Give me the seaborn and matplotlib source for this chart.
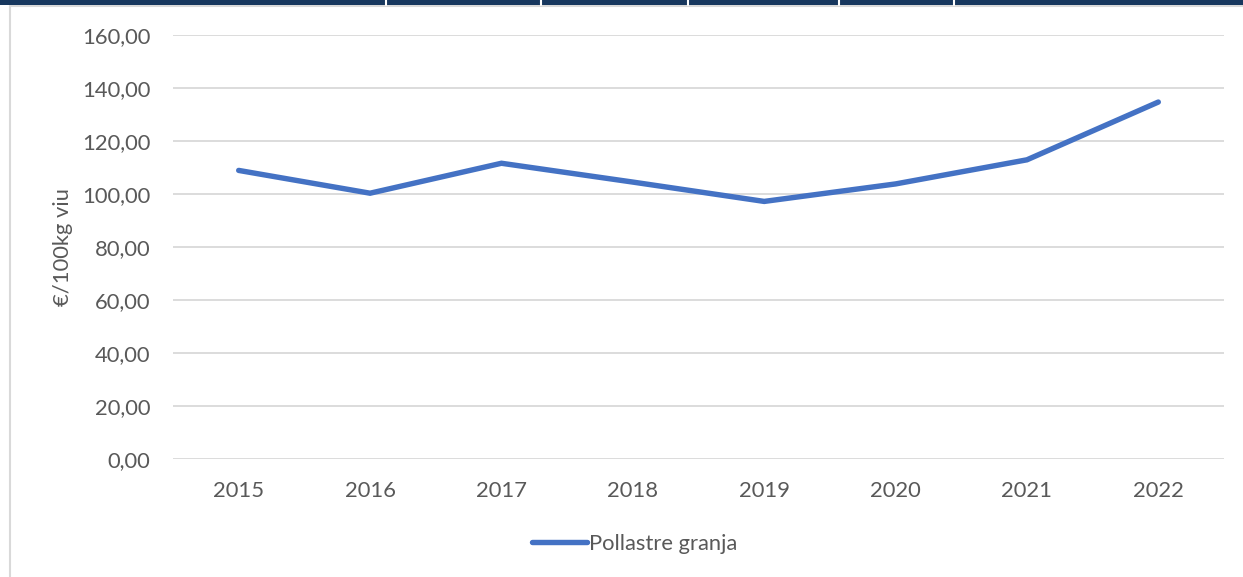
import matplotlib
matplotlib.use("Agg")
import matplotlib.pyplot as plt
import seaborn as sns
import pandas as pd
from matplotlib.patches import Rectangle
from matplotlib.lines import Line2D
from matplotlib.ticker import FuncFormatter

years = ["2015", "2016", "2017", "2018", "2019", "2020", "2021", "2022"]
prices = [108.9, 100.3, 111.6, 104.5, 97.2, 103.8, 112.9, 134.7]
series_name = "Pollastre granja"
y_label = "€/100kg viu"

df = pd.DataFrame({"any": years, "preu": prices, "serie": series_name})

sns.set_theme(style="white")
plt.rcParams["font.family"] = ["Lato", "DejaVu Sans"]

W, H = 1243, 577
fig = plt.figure(figsize=(W / 100, H / 100), dpi=100)
ax = fig.add_axes([173 / W, 1 - 459 / H, (1224 - 173) / W, (459 - 35) / H])

line_color = "#4472C4"
text_color = "#595959"
fs = 15.8

sns.lineplot(data=df, x="any", y="preu", ax=ax, color=line_color,
             linewidth=3.9, solid_capstyle="round", solid_joinstyle="miter",
             legend=False, sort=False)

ax.set_xlim(-0.5, len(years) - 0.5)
ax.set_ylim(0, 160)
ax.set_yticks(range(0, 161, 20))
ax.yaxis.set_major_formatter(FuncFormatter(lambda v, p: f"{v:.2f}".replace(".", ",")))
ax.grid(axis="y", color="#D9D9D9", linewidth=1.3)
ax.grid(axis="x", visible=False)
ax.set_axisbelow(True)
for s in ax.spines.values():
    s.set_visible(False)
ax.tick_params(axis="both", length=0, labelsize=fs, labelcolor=text_color)
ax.tick_params(axis="y", pad=16.5)
ax.tick_params(axis="x", pad=16)
ax.set_xlabel("")
ax.set_ylabel(y_label, fontsize=fs, color=text_color)
ax.yaxis.set_label_coords((73 - 173) / 1051, 0.5)

handle = Line2D([], [], color=line_color, linewidth=3.9, solid_capstyle="round")
fig.legend([handle], [series_name], loc="center", bbox_to_anchor=(635 / W, 1 - 544 / H),
           frameon=False, fontsize=fs, labelcolor=text_color,
           handlelength=2.5, handletextpad=0.1)

# header band and frame of the surrounding panel
fig.patches.append(Rectangle((0, 1 - 5 / H), 1, 5 / H, transform=fig.transFigure,
                             facecolor="#17375E", edgecolor="none", zorder=5))
for xs in [386, 541, 688, 839, 954]:
    fig.add_artist(Line2D([xs / W, xs / W], [1 - 5 / H, 1], transform=fig.transFigure,
                          color="white", linewidth=1.5, zorder=6))
fig.add_artist(Line2D([10 / W, 1], [1 - 6 / H, 1 - 6 / H], transform=fig.transFigure,
                      color="#D9D9D9", linewidth=1.5))
fig.add_artist(Line2D([10 / W, 10 / W], [0, 1 - 6 / H], transform=fig.transFigure,
                      color="#D9D9D9", linewidth=1.5))

fig.savefig("out.png", dpi=100)
